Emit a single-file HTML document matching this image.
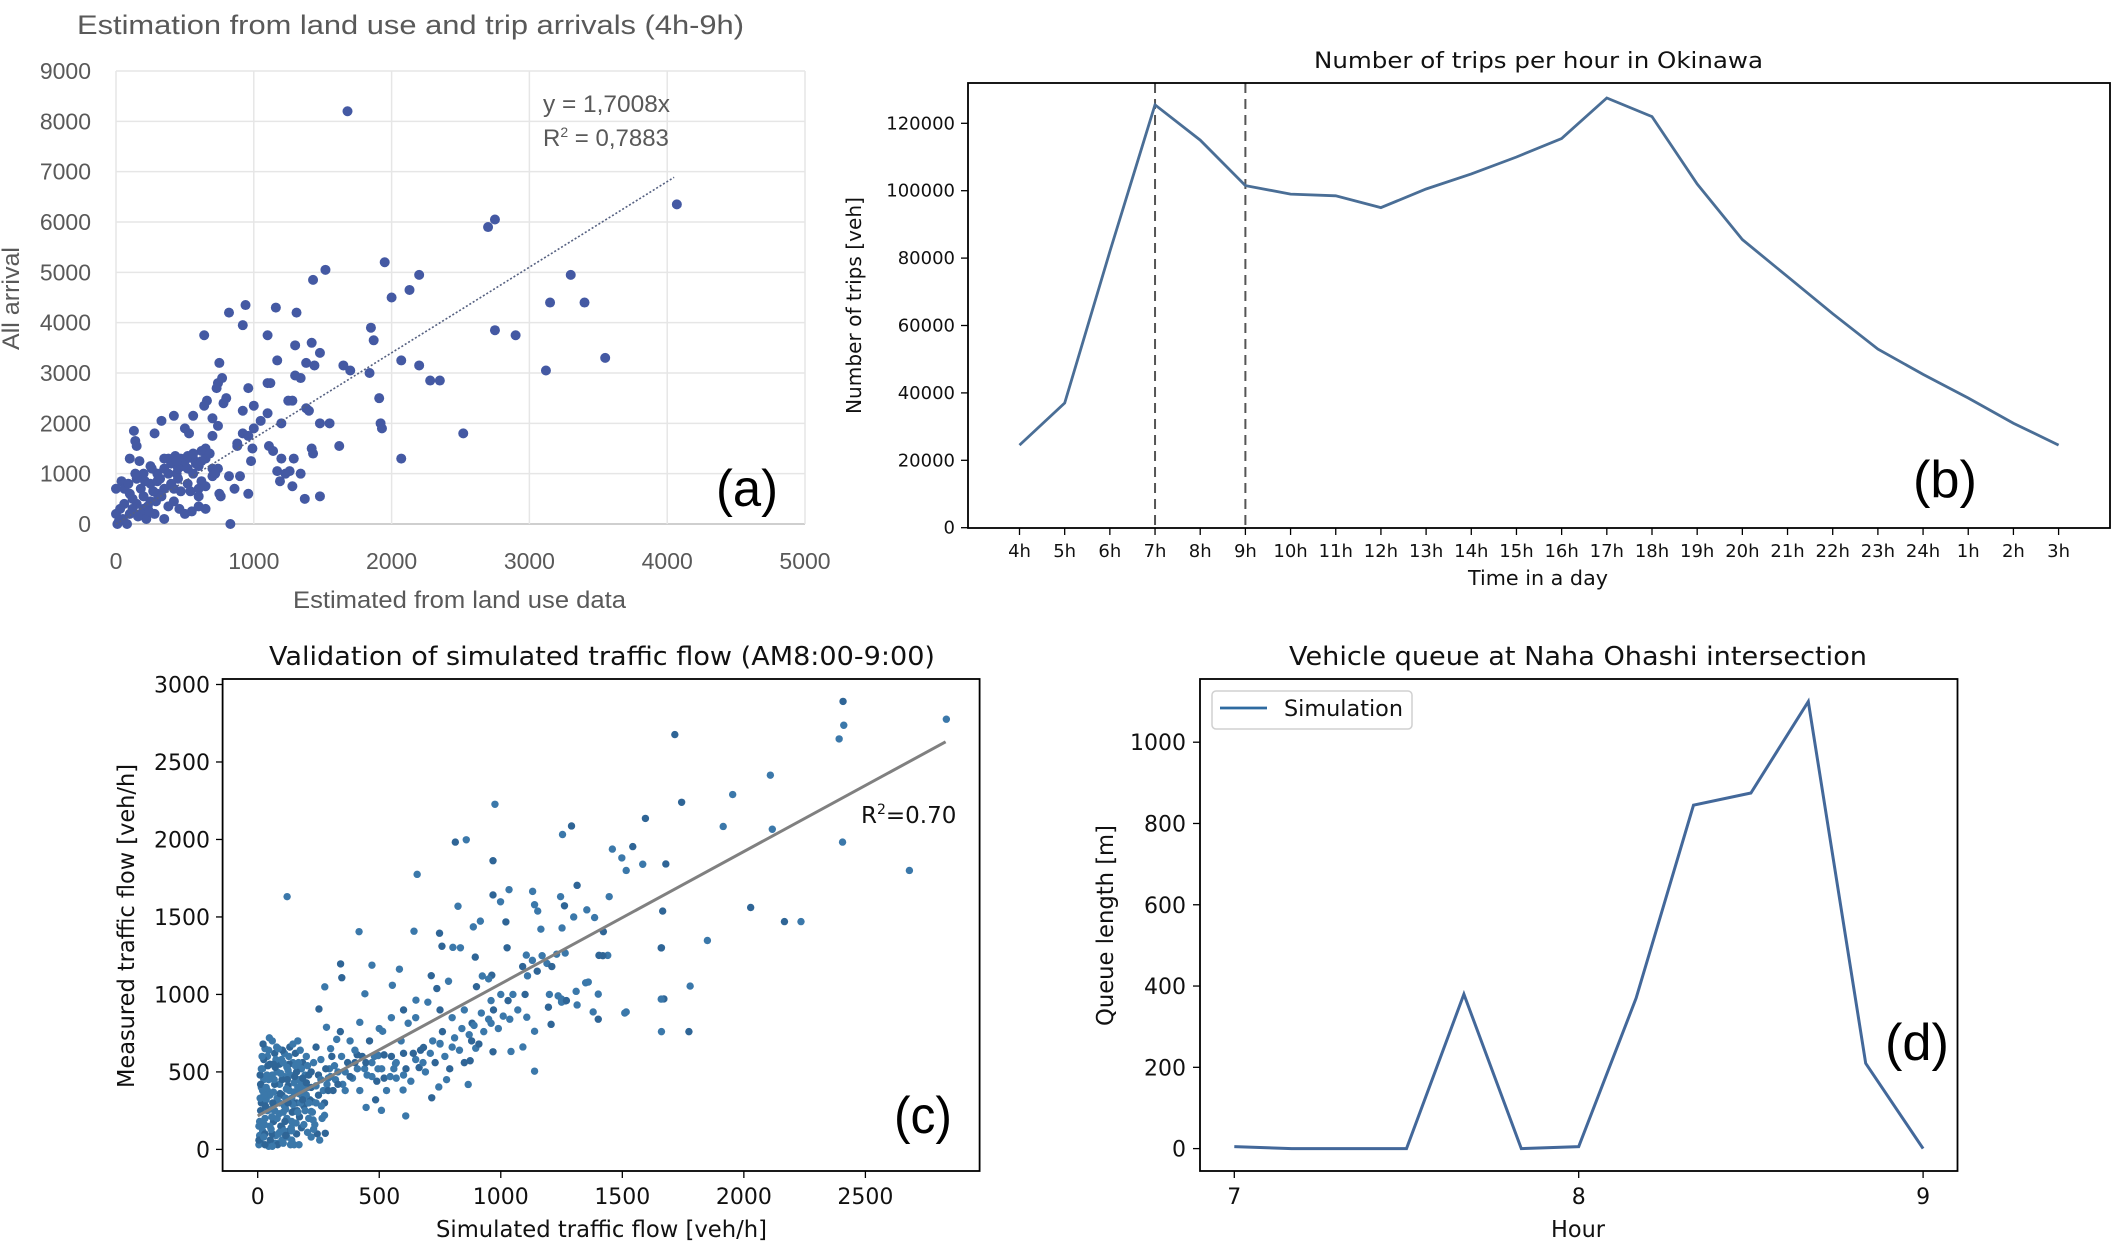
<!DOCTYPE html>
<html><head><meta charset="utf-8"><style>
html,body{margin:0;padding:0;background:#fff;}
svg{display:block;font-family:"DejaVu Sans","Liberation Sans",sans-serif;}
</style></head><body>
<svg id="fig" width="2128" height="1252" viewBox="0 0 2128 1252" xmlns="http://www.w3.org/2000/svg">
<rect width="2128" height="1252" fill="#fff"/>
<g id="pa"></g>
<g id="pb"></g>
<g id="pc"></g>
<g id="pd"></g>
</svg>
<script>
// ---------- Panel A data ----------
const aXTicks = [0,1000,2000,3000,4000,5000];
const aYTicks = [0,1000,2000,3000,4000,5000,6000,7000,8000,9000];
const aSlope = 1.7008;
const aTrendEndX = 4050;
const aPoints = [[1680,8200],[4070,6350],[2700,5900],[2750,6050],[1520,5050],[1430,4850],[1950,5200],[2200,4950],[2000,4500],[2130,4650],[3300,4950],[3150,4400],[3400,4400],[2750,3850],[2900,3750],[3550,3300],[3120,3050],[2070,3250],[2200,3150],[2280,2850],[2350,2850],[1850,3900],[1870,3650],[1840,3000],[1910,2500],[1920,2000],[1930,1900],[2520,1800],[2070,1300],[1620,1550],[820,4200],[940,4350],[920,3950],[1160,4300],[1310,4200],[1100,3750],[1300,3550],[1420,3600],[1480,3400],[1380,3200],[1440,3150],[1170,3250],[640,3750],[750,3200],[1650,3150],[1700,3050],[1300,2950],[1340,2900],[960,2700],[1100,2800],[1120,2800],[740,2800],[770,2900],[730,2700],[800,2500],[780,2400],[660,2450],[640,2350],[1280,2450],[1250,2450],[1380,2300],[1400,2250],[1480,2000],[1550,2000],[1000,2350],[920,2250],[1050,2050],[1100,2200],[1200,2000],[420,2150],[560,2150],[330,2050],[280,1800],[130,1850],[140,1650],[150,1550],[700,2100],[740,1950],[700,1750],[500,1900],[530,1800],[650,1500],[620,1450],[880,1550],[880,1600],[920,1800],[960,1750],[1000,1900],[990,1500],[1110,1550],[1140,1450],[1200,1300],[1290,1300],[1420,1500],[1430,1400],[1170,1050],[1190,850],[1230,1000],[1260,1050],[1280,750],[1340,1000],[1370,500],[1480,550],[980,1250],[960,600],[860,700],[760,550],[820,950],[900,950],[0,700],[40,850],[60,700],[100,600],[100,1300],[170,1250],[200,1000],[250,1150],[300,1000],[350,1100],[380,1300],[400,1200],[440,1000],[480,1150],[520,1100],[560,1300],[600,1150],[650,1300],[680,1400],[700,1100],[560,1000],[620,850],[520,800],[450,900],[400,800],[350,700],[300,600],[250,450],[200,300],[150,400],[100,200],[50,100],[0,200],[20,50],[80,0],[120,300],[180,200],[230,350],[290,450],[330,550],[380,350],[420,450],[460,300],[500,200],[550,250],[600,350],[650,300],[350,100],[280,200],[220,100],[700,950],[750,600],[540,650],[470,650],[830,0],[740,1100],[720,1000],[600,700],[650,750],[250,800],[150,900],[180,700],[300,850],[420,700],[600,550],[260,1100],[350,1300],[430,1350],[470,1300],[500,1250],[60,400],[120,500],[200,550],[270,650],[320,900],[380,1000],[450,1100],[520,1350],[580,1200],[30,300],[10,0],[160,150],[240,250],[90,800],[140,1000],[210,850],[440,1250],[560,1400],[620,1250]];

// ---------- Panel B data ----------
const bHours = ["4h","5h","6h","7h","8h","9h","10h","11h","12h","13h","14h","15h","16h","17h","18h","19h","20h","21h","22h","23h","24h","1h","2h","3h"];
const bTrips = [24500,37000,82000,125500,115000,101500,99000,98500,95000,100500,105000,110000,115500,127500,122000,102000,85500,74500,63500,53000,45500,38500,31000,24500];
const bYTicks = [0,20000,40000,60000,80000,100000,120000];
const bDashed = [3,5];

// ---------- Panel C data ----------
const cXTicks = [0,500,1000,1500,2000,2500];
const cYTicks = [0,500,1000,1500,2000,2500,3000];
const cFit = [[0,216],[2830,2630]];
const cPoints = [[2408,2891],[2833,2776],[2411,2737],[1716,2677],[2392,2649],[2109,2415],[1744,2240],[976,2227],[1954,2290],[1595,2136],[1915,2084],[2117,2066],[1291,2087],[1254,2032],[2406,1983],[813,1983],[858,1998],[1459,1938],[1543,1954],[1498,1881],[1584,1840],[1679,1842],[1516,1800],[2681,1800],[968,1863],[656,1775],[121,1631],[1314,1704],[1034,1676],[1131,1665],[968,1642],[999,1598],[824,1569],[2028,1561],[1246,1631],[1446,1631],[1262,1572],[1139,1579],[1354,1546],[1666,1538],[1152,1538],[1386,1496],[2167,1470],[2235,1470],[916,1473],[1021,1468],[417,1405],[643,1408],[748,1395],[1165,1421],[1252,1429],[1422,1405],[887,1436],[1850,1348],[758,1311],[803,1304],[834,1301],[1026,1301],[1661,1301],[1265,1267],[1404,1252],[1440,1252],[1105,1254],[341,1197],[470,1189],[583,1163],[714,1121],[1779,1054],[1349,1075],[895,1241],[924,1119],[785,1085],[963,1124],[276,1049],[441,1004],[346,1108],[554,1059],[651,963],[737,1038],[1236,991],[1265,958],[1671,971],[1314,932],[1401,1002],[1401,840],[1516,887],[1380,887],[1207,807],[1139,762],[1661,760],[1774,760],[1091,661],[1042,632],[968,630],[1139,505],[897,653],[874,572],[866,419],[745,403],[716,333],[598,383],[609,216],[485,320],[446,271],[509,252],[278,104],[226,307],[220,245],[252,906],[283,788],[325,710],[409,611],[496,606],[567,554],[664,528],[777,450],[960,814],[882,814],[1037,840],[1107,853],[1196,918],[1249,971],[750,684],[682,658],[619,814],[514,762],[10,50],[20,120],[30,200],[15,300],[40,380],[25,450],[50,550],[30,650],[60,700],[70,620],[80,500],[90,420],[100,350],[110,280],[120,200],[130,120],[140,60],[150,30],[160,100],[45,20],[5,150],[12,250],[35,320],[55,260],[65,180],[75,90],[85,40],[95,150],[105,240],[115,330],[125,410],[135,480],[145,560],[155,620],[165,700],[175,640],[185,560],[195,480],[205,400],[215,320],[225,240],[235,160],[245,100],[255,60],[265,200],[275,300],[285,420],[295,520],[305,600],[20,520],[40,600],[70,420],[90,300],[110,470],[130,550],[150,430],[170,360],[190,280],[210,200],[230,560],[250,480],[270,380],[290,460],[310,380],[330,500],[350,420],[370,560],[390,460],[410,520],[430,600],[450,480],[470,560],[490,440],[510,520],[530,380],[550,600],[570,460],[590,700],[610,520],[630,440],[650,580],[670,640],[690,500],[710,620],[730,560],[750,680],[770,600],[790,520],[810,720],[830,640],[850,560],[870,740],[890,800],[910,680],[930,760],[950,840],[970,900],[990,780],[1010,860],[1030,960],[1050,1000],[1070,900],[1090,1180],[1110,1120],[1130,1220],[1150,1150],[1170,1250],[1190,1200],[1210,1180],[1230,1260],[1250,950],[1270,960],[1310,1020],[1360,1080],[1420,1250],[1510,880],[1660,970],[1660,1300],[1300,1500],[1200,1000],[1100,1000],[1000,1000],[950,1100],[900,1050],[850,900],[800,850],[750,900],[700,950],[650,850],[600,900],[550,850],[500,780],[460,700],[420,820],[380,700],[340,760],[300,650],[260,580],[240,660],[200,600],[180,520],[60,100],[100,60],[140,180],[180,140],[220,80],[15,400],[25,580],[5,30],[8,90],[30,100],[50,350],[70,250],[90,550],[110,620],[130,380],[150,250],[170,450],[190,380],[210,480],[60,480],[80,330],[100,450],[120,530],[140,330],[160,500],[40,250],[20,380],[10,480],[50,150],[80,200],[100,140],[120,80],[70,40],[160,300],[180,420],[200,350],[220,400],[240,300],[260,450],[280,520],[320,450],[360,500],[400,560],[440,520],[480,600],[520,460],[560,520],[600,480],[640,620],[680,560],[720,700],[760,760],[800,660],[840,780],[880,700],[920,880],[960,960],
[5,60],[8,180],[10,330],[12,420],[15,520],[18,600],[22,680],[25,80],[28,160],[32,280],[35,400],[38,480],[42,540],[45,640],[48,720],[52,60],[55,130],[58,210],[62,300],[65,370],[68,450],[72,530],[75,580],[78,660],[82,30],[85,100],[88,230],[92,360],[95,490],[98,580],[102,640],[105,40],[108,120],[112,180],[115,260],[118,390],[122,450],[125,510],[128,600],[132,660],[135,30],[138,140],[142,240],[145,290],[148,370],[152,470],[155,540],[158,170],[162,250],[165,400],[168,560],[172,210],[176,300],[180,350],[185,460],[190,160],[195,250],[200,430],[205,540],[210,300],[220,500],[228,190],[240,410],[250,350],[262,280],[275,220],[290,380],[300,470],[316,540],[330,420],[345,600],[360,380],[380,470],[400,640],[420,380],[445,560],[470,470],[495,520],[520,610],[545,470],[570,560],[600,620],[25,350],[45,450],[65,550],[85,650],[105,560],[125,300],[145,680],[165,240],[185,320],[205,110],[230,130],[30,30],[60,20],[90,110],[115,90],[140,120],[170,30]];

// ---------- Panel D data ----------
const dHours = [7,7.1667,7.3333,7.5,7.6667,7.8333,8,8.1667,8.3333,8.5,8.6667,8.8333,9];
const dQueue = [5,0,0,0,380,0,5,370,845,875,1100,210,0];
const dXTicks = [7,8,9];
const dYTicks = [0,200,400,600,800,1000];

const NS = "http://www.w3.org/2000/svg";
function mk(parent, tag, attrs, text) {
  const e = document.createElementNS(NS, tag);
  for (const k in attrs) e.setAttribute(k, attrs[k]);
  if (text !== undefined) e.textContent = text;
  parent.appendChild(e);
  return e;
}
function lin(d0, d1, p0, p1) { return v => p0 + (v - d0) * (p1 - p0) / (d1 - d0); }

// ================= Panel A =================
(function(){
  const g = document.getElementById('pa');
  const X = lin(0, 5000, 116, 805), Y = lin(0, 9000, 524, 71);
  aYTicks.forEach(t => {
    const l = mk(g, 'line', {x1: X(0), x2: X(5000), y1: Y(t), y2: Y(t), stroke: t === 0 ? '#bfbfbf' : '#e6e6e6', 'stroke-width': 1.5});
    
    
    const tx = mk(g, 'text', {x: 91, y: Y(t) + 8, 'text-anchor': 'end', 'font-size': 23, fill: '#595959', 'font-family': 'Liberation Sans, sans-serif'}, String(t));
    
    
  });
  aXTicks.forEach(t => {
    const l = mk(g, 'line', {x1: X(t), x2: X(t), y1: Y(0), y2: Y(9000), stroke: '#e6e6e6', 'stroke-width': 1.5});
    
    
    const tx = mk(g, 'text', {x: X(t), y: 569, 'text-anchor': 'middle', 'font-size': 23, fill: '#595959', 'font-family': 'Liberation Sans, sans-serif'}, String(t));
    
    
  });
  aPoints.forEach(p => {
    const c = mk(g, 'circle', {cx: X(p[0]), cy: Y(p[1]), r: 5, fill: '#4459a3'});
    
    
  });
  const tl = mk(g, 'line', {x1: X(0), y1: Y(0), x2: X(aTrendEndX), y2: Y(aTrendEndX * aSlope), stroke: '#556080', 'stroke-width': 1.6, 'stroke-dasharray': '2,2'});
  
  
})();

// ================= Panel B =================
(function(){
  const g = document.getElementById('pb');
  const X = i => 1019.5 + i * (2058.6 - 1019.5) / 23;
  const Y = lin(0, 120000, 527.7, 123.3);
  bYTicks.forEach(t => {
    const l = mk(g, 'line', {x1: 961, x2: 968, y1: Y(t), y2: Y(t), stroke: '#000', 'stroke-width': 1.3});
    
    
    const tx = mk(g, 'text', {x: 955, y: Y(t) + 6, 'text-anchor': 'end', 'font-size': 18, fill: '#111'}, String(t));
    
    
  });
  bHours.forEach((h, i) => {
    const l = mk(g, 'line', {x1: X(i), x2: X(i), y1: 528, y2: 535, stroke: '#000', 'stroke-width': 1.3});
    
    
    const tx = mk(g, 'text', {x: X(i), y: 557, 'text-anchor': 'middle', 'font-size': 18, fill: '#111'}, h);
    
    
  });
  bDashed.forEach(i => {
    const l = mk(g, 'line', {x1: X(i), x2: X(i), y1: 83, y2: 528, stroke: '#555', 'stroke-width': 2, 'stroke-dasharray': '10,6'});
    
    
  });
  const pts = bTrips.map((v, i) => X(i).toFixed(1) + ',' + Y(v).toFixed(1)).join(' ');
  const pl = mk(g, 'polyline', {points: pts, fill: 'none', stroke: '#4a6e96', 'stroke-width': 2.8});
  
  
  const fr = mk(g, 'rect', {x: 968, y: 83, width: 1142, height: 445, fill: 'none', stroke: '#000', 'stroke-width': 1.8});
  
  
})();

// ================= Panel C =================
(function(){
  const g = document.getElementById('pc');
  const X = lin(0, 2500, 257.7, 865.4), Y = lin(0, 3000, 1149.4, 684.5);
  cYTicks.forEach(t => {
    const l = mk(g, 'line', {x1: 216, x2: 223, y1: Y(t), y2: Y(t), stroke: '#000', 'stroke-width': 1.3});
    
    
    const tx = mk(g, 'text', {x: 210, y: Y(t) + 8, 'text-anchor': 'end', 'font-size': 22, fill: '#111'}, String(t));
    
    
  });
  cXTicks.forEach(t => {
    const l = mk(g, 'line', {x1: X(t), x2: X(t), y1: 1171, y2: 1178, stroke: '#000', 'stroke-width': 1.3});
    
    
    const tx = mk(g, 'text', {x: X(t), y: 1204, 'text-anchor': 'middle', 'font-size': 22, fill: '#111'}, String(t));
    
    
  });
  cPoints.forEach((p, i) => {
    const c = mk(g, 'circle', {cx: X(p[0]), cy: Y(p[1]), r: 3.7, fill: i % 3 === 0 ? '#2f6596' : '#3b78aa'});
    
    
  });
  const fl = mk(g, 'line', {x1: X(cFit[0][0]), y1: Y(cFit[0][1]), x2: X(cFit[1][0]), y2: Y(cFit[1][1]), stroke: '#808080', 'stroke-width': 3});
  
  
  const fr = mk(g, 'rect', {x: 222.6, y: 679, width: 757, height: 492, fill: 'none', stroke: '#000', 'stroke-width': 1.8});
  
  
})();

// ================= Panel D =================
(function(){
  const g = document.getElementById('pd');
  const X = lin(7, 9, 1234.3, 1923.1), Y = lin(0, 1000, 1148.6, 742.2);
  dYTicks.forEach(t => {
    const l = mk(g, 'line', {x1: 1193, x2: 1200, y1: Y(t), y2: Y(t), stroke: '#000', 'stroke-width': 1.3});
    
    
    const tx = mk(g, 'text', {x: 1186, y: Y(t) + 8, 'text-anchor': 'end', 'font-size': 22, fill: '#111'}, String(t));
    
    
  });
  dXTicks.forEach(t => {
    const l = mk(g, 'line', {x1: X(t), x2: X(t), y1: 1171, y2: 1178, stroke: '#000', 'stroke-width': 1.3});
    
    
    const tx = mk(g, 'text', {x: X(t), y: 1204, 'text-anchor': 'middle', 'font-size': 22, fill: '#111'}, String(t));
    
    
  });
  const pts = dHours.map((h, i) => X(h).toFixed(1) + ',' + Y(dQueue[i]).toFixed(1)).join(' ');
  const pl = mk(g, 'polyline', {points: pts, fill: 'none', stroke: '#43689a', 'stroke-width': 3});
  
  
  const fr = mk(g, 'rect', {x: 1200, y: 679, width: 757.5, height: 492, fill: 'none', stroke: '#000', 'stroke-width': 1.8});
  
  
})();
</script>
<script>
(function(){
  const svg = document.getElementById('fig');
  svg.insertAdjacentHTML('beforeend', `
  <text x="77" y="34" font-size="27" fill="#595959" font-family="Liberation Sans, sans-serif" textLength="667" lengthAdjust="spacingAndGlyphs">Estimation from land use and trip arrivals (4h-9h)</text>
  <text x="293" y="608" font-size="24" fill="#595959" font-family="Liberation Sans, sans-serif" textLength="333" lengthAdjust="spacingAndGlyphs">Estimated from land use data</text>
  <text transform="translate(19,350) rotate(-90)" font-size="24" fill="#595959" font-family="Liberation Sans, sans-serif" textLength="103" lengthAdjust="spacingAndGlyphs">All arrival</text>
  <text x="543" y="112" font-size="24" fill="#595959" font-family="Liberation Sans, sans-serif" textLength="127" lengthAdjust="spacingAndGlyphs">y = 1,7008x</text>
  <text x="543" y="146" font-size="24" fill="#595959" font-family="Liberation Sans, sans-serif">R<tspan font-size="14" dy="-9">2</tspan><tspan dy="9"> = 0,7883</tspan></text>
  <text x="716" y="506" font-size="52" fill="#000" font-family="Liberation Sans, sans-serif" textLength="62" lengthAdjust="spacingAndGlyphs">(a)</text>

  <text x="1314" y="68" font-size="22" fill="#111" textLength="449" lengthAdjust="spacingAndGlyphs">Number of trips per hour in Okinawa</text>
  <text x="1468" y="585" font-size="20" fill="#111" textLength="140" lengthAdjust="spacingAndGlyphs">Time in a day</text>
  <text transform="translate(861,414) rotate(-90)" font-size="20" fill="#111" textLength="217" lengthAdjust="spacingAndGlyphs">Number of trips [veh]</text>
  <text x="1913" y="497" font-size="52" fill="#000" font-family="Liberation Sans, sans-serif" textLength="64" lengthAdjust="spacingAndGlyphs">(b)</text>

  <text x="269" y="665" font-size="26" fill="#111" textLength="666" lengthAdjust="spacingAndGlyphs">Validation of simulated traffic flow (AM8:00-9:00)</text>
  <text x="436" y="1237" font-size="23" fill="#111" textLength="331" lengthAdjust="spacingAndGlyphs">Simulated traffic flow [veh/h]</text>
  <text transform="translate(134,1088) rotate(-90)" font-size="23" fill="#111" textLength="324" lengthAdjust="spacingAndGlyphs">Measured traffic flow [veh/h]</text>
  <text x="861" y="823" font-size="23" fill="#111">R<tspan font-size="14" dy="-9">2</tspan><tspan dy="9">=0.70</tspan></text>
  <text x="894" y="1133" font-size="52" fill="#000" font-family="Liberation Sans, sans-serif" textLength="58" lengthAdjust="spacingAndGlyphs">(c)</text>

  <text x="1289" y="665" font-size="26" fill="#111" textLength="578" lengthAdjust="spacingAndGlyphs">Vehicle queue at Naha Ohashi intersection</text>
  <text x="1551" y="1237" font-size="23" fill="#111" textLength="54" lengthAdjust="spacingAndGlyphs">Hour</text>
  <text transform="translate(1113,1026) rotate(-90)" font-size="23" fill="#111" textLength="201" lengthAdjust="spacingAndGlyphs">Queue length [m]</text>
  <text x="1885" y="1060" font-size="52" fill="#000" font-family="Liberation Sans, sans-serif" textLength="64" lengthAdjust="spacingAndGlyphs">(d)</text>
  <g>
    <rect x="1212" y="691" width="200" height="38" rx="4" fill="#fff" stroke="#d0d0d0" stroke-width="1.5"/>
    <line x1="1220" y1="708" x2="1267" y2="708" stroke="#2e6aa0" stroke-width="2.8"/>
    <text x="1284" y="716" font-size="22" fill="#111" textLength="119" lengthAdjust="spacingAndGlyphs">Simulation</text>
  </g>`);
})();
</script>
</body></html>
